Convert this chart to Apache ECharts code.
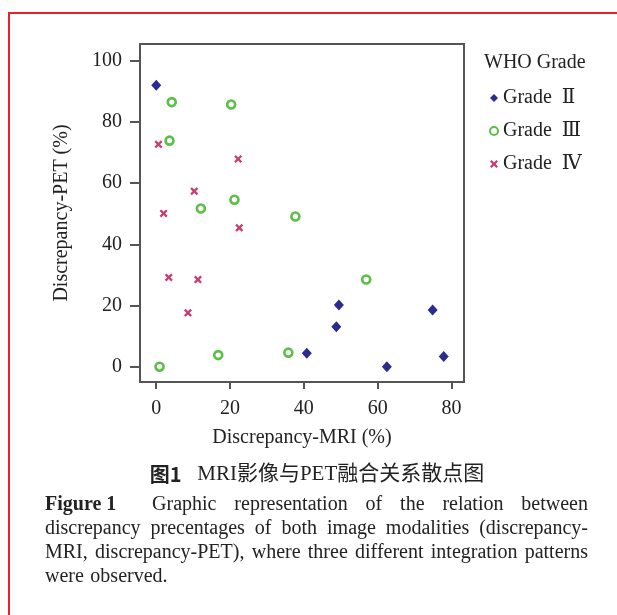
<!DOCTYPE html>
<html>
<head>
<meta charset="utf-8">
<script src="https://cdn.jsdelivr.net/npm/echarts@6/dist/echarts.min.js"></script>
<style>
html,body{margin:0;padding:0;background:#fff;}
#chart{width:617px;height:615px;}
</style>
</head>
<body>
<div id="chart"></div>
<script>
// ---- data ----
const xAxisName = 'Discrepancy-MRI (%)';
const yAxisName = 'Discrepancy-PET (%)';
const legendTitle = 'WHO Grade';
const seriesNames = ['Grade  Ⅱ', 'Grade  Ⅲ', 'Grade  Ⅳ'];
const xTicks = [0, 20, 40, 60, 80];
const yTicks = [0, 20, 40, 60, 80, 100];
const grade2 = [[0, 92], [49.5, 20.2], [48.8, 13.1], [74.9, 18.5], [40.8, 4.4], [62.5, 0], [77.9, 3.3]];
const grade3 = [[4.2, 86.5], [20.3, 85.7], [3.6, 73.9], [21.2, 54.6], [12.1, 51.7], [37.7, 49.1], [56.9, 28.5], [16.8, 3.8], [35.8, 4.6], [0.9, 0]];
const grade4 = [[0.6, 72.7], [22.2, 67.9], [10.3, 57.4], [2.0, 50.1], [22.5, 45.4], [3.4, 29.2], [11.3, 28.5], [8.6, 17.6]];
const captionCN = ['图1', 'MRI影像与PET融合关系散点图'];
const captionEN = [
  [{t: 'Figure 1', b: true}, 'Graphic', 'representation', 'of', 'the', 'relation', 'between'],
  ['discrepancy', 'precentages', 'of', 'both', 'image', 'modalities', '(discrepancy-'],
  ['MRI,', 'discrepancy-PET),', 'where', 'three', 'different', 'integration', 'patterns'],
  ['were', 'observed.']
];

// ---- layout ----
const FONT = "'Liberation Serif', 'DejaVu Serif', serif";
const ctx = document.createElement('canvas').getContext('2d');
function measure(t, bold, size) {
  ctx.font = (bold ? 'bold ' : '') + size + 'px ' + FONT;
  return ctx.measureText(t).width;
}
const capLeft = 45, capRight = 588, capSize = 20, capTop = 505, capLH = 24;
const graphics = [];
graphics.push({
  type: 'rect', silent: true, z: -1,
  shape: {x: 9, y: 13, width: 700, height: 700},
  style: {fill: 'none', stroke: '#e8212b', lineWidth: 2}
});
captionEN.forEach((line, li) => {
  const toks = line.map(w => typeof w === 'string' ? {t: w, b: false} : w);
  const widths = toks.map(k => measure(k.t, k.b, capSize));
  const total = widths.reduce((a, b) => a + b, 0);
  const weights = toks.slice(1).map((k, i) => (i === 0 && toks[0].b) ? 2 : 1);
  const wsum = weights.reduce((a, b) => a + b, 0);
  const last = li === captionEN.length - 1;
  const unit = last ? measure(' ', false, capSize) * 1.3 : (capRight - capLeft - total) / wsum;
  let x = capLeft;
  toks.forEach((k, i) => {
    graphics.push({
      type: 'text', x: x, y: capTop + li * capLH,
      style: {text: k.t, fill: '#222', fontSize: capSize, fontFamily: FONT,
        fontWeight: k.b ? 'bold' : 'normal', align: 'left', verticalAlign: 'middle'}
    });
    x += widths[i] + (i < weights.length ? weights[i] * unit : 0);
  });
});
graphics.push({
  type: 'text', x: 317, y: 474,
  style: {
    text: '{b|' + captionCN[0] + '}   ' + captionCN[1],
    fill: '#222', fontSize: 21, fontFamily: FONT + ", 'Noto Sans CJK SC'",
    align: 'center', verticalAlign: 'middle',
    rich: {b: {fontWeight: 'bold', fontSize: 20, fontFamily: "'Noto Sans CJK SC'", fill: '#222'}}
  }
});

const crossPath = 'path://M0,2 L2,0 L5,3 L8,0 L10,2 L7,5 L10,8 L8,10 L5,7 L2,10 L0,8 L3,5 Z';

const chart = echarts.init(document.getElementById('chart'), null, {renderer: 'canvas'});
chart.setOption({
  animation: false,
  backgroundColor: '#fff',
  textStyle: {fontFamily: FONT},
  title: {
    text: legendTitle, left: 479, top: 48,
    textStyle: {fontFamily: FONT, fontSize: 20, fontWeight: 'normal', color: '#222'}
  },
  legend: {
    orient: 'vertical', left: 484, top: 83, itemGap: 13, itemWidth: 8, itemHeight: 8,
    selectedMode: false,
    textStyle: {fontFamily: FONT + ", 'DejaVu Serif'", fontSize: 20, color: '#222'},
    data: seriesNames
  },
  grid: {
    left: 140, top: 44, width: 324, height: 338, show: true,
    borderColor: '#555', borderWidth: 2, containLabel: false
  },
  xAxis: {
    type: 'value', min: -4.4, max: 83.4,
    name: xAxisName, nameLocation: 'middle', nameGap: 46,
    nameTextStyle: {fontFamily: FONT, fontSize: 20, color: '#222'},
    axisLine: {show: false, onZero: false},
    axisTick: {show: true, inside: false, length: 7, lineStyle: {color: '#555', width: 2}, customValues: xTicks},
    axisLabel: {fontFamily: FONT, fontSize: 20, color: '#222', margin: 17, customValues: xTicks},
    splitLine: {show: false}
  },
  yAxis: {
    type: 'value', min: -5, max: 105.5,
    name: yAxisName, nameLocation: 'middle', nameGap: 68,
    nameTextStyle: {fontFamily: FONT, fontSize: 20, color: '#222'},
    axisLine: {show: false, onZero: false},
    axisTick: {show: true, inside: false, length: 10, lineStyle: {color: '#555', width: 2}, customValues: yTicks},
    axisLabel: {fontFamily: FONT, fontSize: 20, color: '#222', margin: 18, customValues: yTicks},
    splitLine: {show: false}
  },
  series: [
    {name: seriesNames[0], type: 'scatter', data: grade2, symbol: 'diamond', symbolSize: [10, 11],
      itemStyle: {color: '#2b2a8e', opacity: 1}},
    {name: seriesNames[1], type: 'scatter', data: grade3, symbol: 'circle', symbolSize: 8,
      itemStyle: {color: '#ffffff', borderColor: '#5cbf48', borderWidth: 2.6, opacity: 1}},
    {name: seriesNames[2], type: 'scatter', data: grade4, symbol: crossPath, symbolSize: 8,
      itemStyle: {color: '#c93a72', opacity: 1}}
  ],
  graphic: graphics
});
</script>
</body>
</html>
